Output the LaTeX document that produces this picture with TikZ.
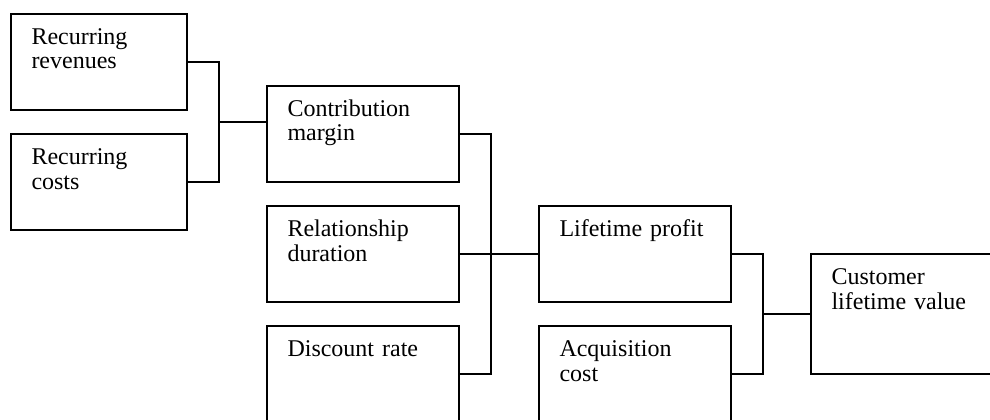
\documentclass[tikz,border=0pt]{standalone}
\usepackage{fontspec}
\setmainfont{Liberation Serif}
\begin{document}
\begin{tikzpicture}[x=1pt,y=-1pt,
  card/.style={draw, line width=1.8pt, rectangle, anchor=north west,
    inner xsep=20.5pt, inner ysep=0pt, outer sep=0pt, align=left,
    font=\fontsize{24}{24.5}\selectfont,
    text height=30.5pt, text depth=65.5pt},
  narrowcard/.style={card, text width=135pt},
  widecard/.style={card, text width=151pt},
  link/.style={draw, line width=1.6pt}]
\useasboundingbox (0,0) rectangle (990,420);
\clip (0,0) rectangle (990,420);

% first level
\node[narrowcard] (rev) at (11,14) {Recurring\\revenues};
\node[narrowcard] (cost) at (11,134) {Recurring\\costs};

% second level
\node[widecard] (cm) at (267,86) {Contribution\\margin};
\node[widecard] (rd) at (267,206) {Relationship\\duration};
\node[widecard] (dr) at (267,326) {Discount rate};

% third level
\node[widecard] (lp) at (539,206) {Lifetime profit};
\node[widecard] (ac) at (539,326) {Acquisition\\cost};

% result
\node[card, text width=159pt, text depth=89.5pt] (clv) at (811,254) {Customer\\lifetime value};

% junction points of the brackets
\coordinate (j1) at (219,122);
\coordinate (j2) at (491,254);
\coordinate (j3) at (763,314);

% revenues and costs -> contribution margin
\path[link] (rev.east) -| (j1) |- (cost.east);
\path[link] (j1) -- (j1 -| cm.west);

% margin, duration, discount -> lifetime profit
\path[link] (cm.east) -| (j2) |- (dr.east);
\path[link] (rd.east) -- (lp.west);

% profit and acquisition cost -> customer lifetime value
\path[link] (lp.east) -| (j3) |- (ac.east);
\path[link] (j3) -- (j3 -| clv.west);
\end{tikzpicture}
\end{document}
